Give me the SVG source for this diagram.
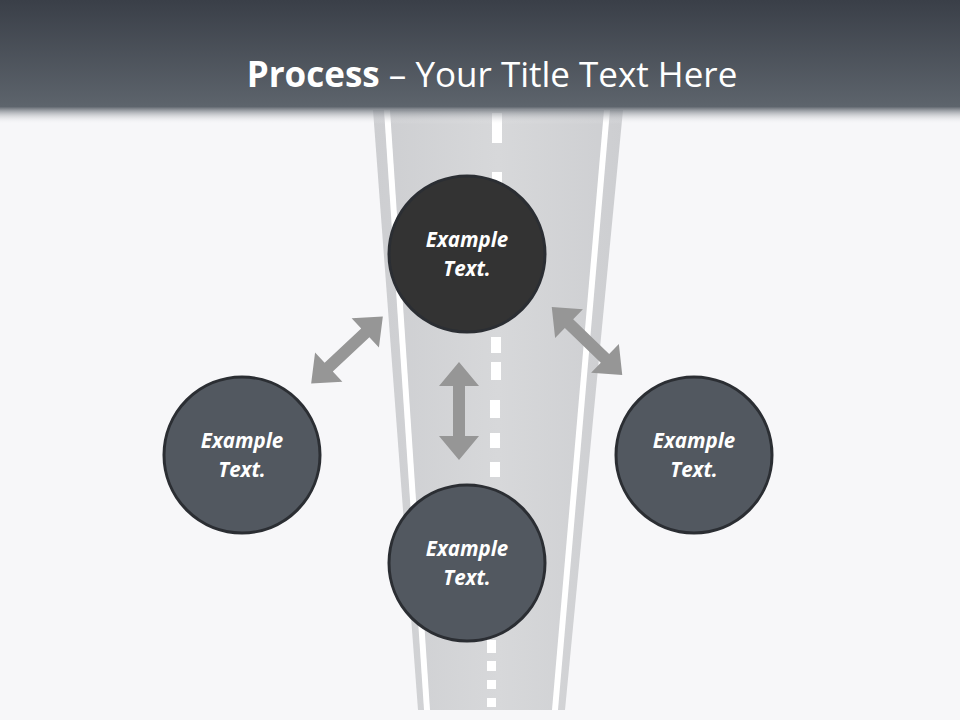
<svg xmlns="http://www.w3.org/2000/svg" width="960" height="720" viewBox="0 0 960 720">
<defs>
<linearGradient id="hdr" x1="0" y1="0" x2="0" y2="1">
<stop offset="0" stop-color="#3a3f48"/><stop offset="0.86" stop-color="#5d646c"/><stop offset="1" stop-color="#f7f7f9" stop-opacity="0"/>
</linearGradient>
<linearGradient id="road" x1="0" y1="0" x2="1" y2="0">
<stop offset="0" stop-color="#cdced1"/><stop offset="0.5" stop-color="#d7d8da"/><stop offset="1" stop-color="#cdced1"/>
</linearGradient>
<polygon id="arr" points="-49,0 -25,-20 -25,-6 25,-6 25,-20 49,0 25,20 25,6 -25,6 -25,20"/>
</defs>
<style>
.c{stroke:#2b2e33;stroke-width:3}
.t{font-family:"Open Sans","DejaVu Sans",sans-serif;font-size:20.5px;font-weight:bold;font-style:italic;fill:#fff;text-anchor:middle}
.a{fill:#969696}
.w{fill:#fff}
</style>
<rect width="960" height="720" fill="#f7f7f9"/>
<g id="road-group">
<polygon points="373,110 623,110 565,710 418,710" fill="url(#road)"/>
<polygon class="w" points="384,110 390,110 430,710 424,710"/>
<polygon class="w" points="604,110 610,110 558,710 552,710"/>
<g class="w">
<rect x="492" y="113" width="10" height="30"/>
<rect x="492" y="172" width="10" height="28"/>
<rect x="491" y="337" width="10" height="16"/>
<rect x="491" y="362" width="10" height="18"/>
<rect x="490" y="400" width="10" height="18"/>
<rect x="490" y="433" width="10" height="15"/>
<rect x="490" y="462" width="10" height="15"/>
<rect x="487" y="640" width="9" height="13"/>
<rect x="487" y="661" width="9" height="10"/>
<rect x="487" y="680" width="9" height="9"/>
<rect x="487" y="698" width="9" height="9"/>
</g>
</g>
<rect width="960" height="124" fill="url(#hdr)"/>
<text x="492" y="87" font-family="'Open Sans','DejaVu Sans',sans-serif" font-size="35" fill="#fff" text-anchor="middle"><tspan font-weight="bold">Process</tspan> – Your Title Text Here</text>
<g id="connectors" class="a">
<use href="#arr" transform="translate(459,411) rotate(90)"/>
<use href="#arr" transform="translate(347,350) rotate(-43)"/>
<use href="#arr" transform="translate(587,341) rotate(44)"/>
</g>
<g id="n-top"><circle class="c" cx="467" cy="254" r="78" fill="#333333"/><text class="t" x="467" y="247">Example</text><text class="t" x="467" y="276">Text.</text></g>
<g id="n-left"><circle class="c" cx="242" cy="455" r="78" fill="#525860"/><text class="t" x="242" y="448">Example</text><text class="t" x="242" y="477">Text.</text></g>
<g id="n-right"><circle class="c" cx="694" cy="455" r="78" fill="#525860"/><text class="t" x="694" y="448">Example</text><text class="t" x="694" y="477">Text.</text></g>
<g id="n-bottom"><circle class="c" cx="467" cy="563" r="78" fill="#525860"/><text class="t" x="467" y="556">Example</text><text class="t" x="467" y="585">Text.</text></g>
</svg>
